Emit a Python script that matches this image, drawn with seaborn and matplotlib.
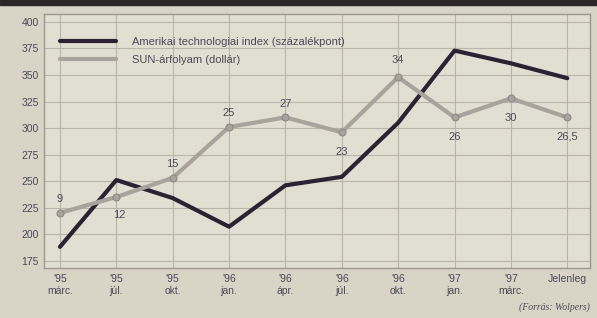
import pandas as pd
import seaborn as sns
import matplotlib.pyplot as plt
from matplotlib.lines import Line2D
from matplotlib.patches import Rectangle

# Values
periods = ["'95\nmárc.", "'95\njúl.", "'95\nokt.", "'96\njan.", "'96\nápr.",
           "'96\njúl.", "'96\nokt.", "'97\njan.", "'97\nmárc.", "Jelenleg"]
tech_index = [188, 251, 234, 207, 246, 254, 305, 373, 361, 347]
sun_price = [220, 235, 253, 301, 310, 296, 348, 310, 328, 310]
sun_labels = ["9", "12", "15", "25", "27", "23", "34", "26", "30", "26,5"]
y_ticks = [175, 200, 225, 250, 275, 300, 325, 350, 375, 400]

BG = "#d8d4c6"
PLOT_BG = "#e1ded2"
GRID = "#b9b5aa"
DARK = "#2b2233"
GREY = "#a8a39d"
TXT = "#4b4a58"

sns.set_style("ticks")
plt.rcParams["font.family"] = ["Liberation Sans", "DejaVu Sans"]

df = pd.DataFrame({"pos": range(len(periods)), "tech": tech_index, "sun": sun_price})

fig = plt.figure(figsize=(5.97, 3.18), dpi=100, facecolor=BG)
ax = fig.add_axes([0.074, 0.157, 0.914, 0.799])
ax.set_facecolor(PLOT_BG)

sns.lineplot(data=df, x="pos", y="tech", ax=ax, color=DARK, linewidth=3.0,
             legend=False)
sns.lineplot(data=df, x="pos", y="sun", ax=ax, color=GREY, linewidth=3.0,
             marker="o", markersize=5, markerfacecolor=GREY,
             markeredgecolor="#8f8a86", markeredgewidth=0.8, legend=False)

# value labels for the SUN series (above / below the point)
offsets = [10, -13, 10, 10, 10, -14, 12, -14, -14, -14]
for i, (v, lab, off) in enumerate(zip(sun_price, sun_labels, offsets)):
    dx = 2 if i == 1 else 0
    ax.annotate(lab, (i, v), xytext=(dx, off), textcoords="offset points",
                ha="center", va="center", fontsize=8, color=TXT)

ax.set_xlim(-0.28, 9.4)
ax.set_ylim(168, 407.5)
ax.set_xticks(range(len(periods)))
ax.set_xticklabels(periods, fontsize=7.5, color=TXT, linespacing=1.3)
ax.set_yticks(y_ticks)
ax.set_yticklabels([str(t) for t in y_ticks], fontsize=7.5, color=TXT)
ax.tick_params(axis="both", length=0, pad=4)
ax.set_xlabel("")
ax.set_ylabel("")
ax.grid(True, color=GRID, linewidth=0.8)
ax.set_axisbelow(True)
for s in ax.spines.values():
    s.set_color("#9c988f")
    s.set_linewidth(1.0)

handles = [Line2D([], [], color=DARK, linewidth=3.0),
           Line2D([], [], color=GREY, linewidth=3.0)]
names = ["Amerikai technologiai index (százalékpont)", "SUN-árfolyam (dollár)"]
leg = ax.legend(handles, names, loc="upper left", bbox_to_anchor=(0.015, 0.94),
                frameon=False, fontsize=8, handlelength=5.0, handletextpad=1.5,
                labelspacing=0.75, borderaxespad=0.3)
for t in leg.get_texts():
    t.set_color(TXT)

fig.text(0.988, 0.02, "(Forrás: Wolpers)", ha="right", va="bottom",
         fontsize=7, style="italic", color=TXT,
         family=["Liberation Serif", "DejaVu Serif"])

fig.patches.append(Rectangle((0, 0.985), 1, 0.015, transform=fig.transFigure,
                             color="#2a2628", zorder=0))

fig.savefig("out.png", dpi=100, facecolor=BG)
